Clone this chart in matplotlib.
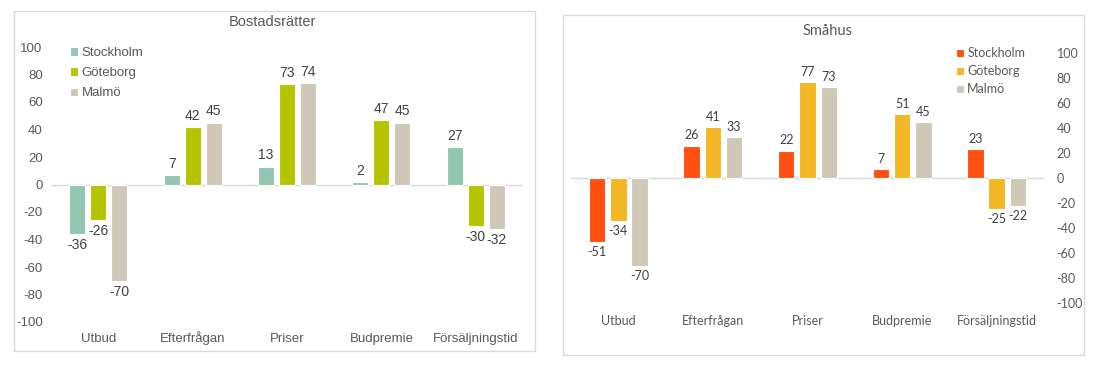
import numpy as np
import matplotlib.pyplot as plt
from matplotlib.patches import Rectangle

plt.rcParams['axes.unicode_minus'] = False

categories = ['Utbud', 'Efterfrågan', 'Priser', 'Budpremie', 'Försäljningstid']
cities = ['Stockholm', 'Göteborg', 'Malmö']

br_stockholm = [-36, 7, 13, 2, 27]
br_goteborg = [-26, 42, 73, 47, -30]
br_malmo = [-70, 45, 74, 45, -32]

sh_stockholm = [-51, 26, 22, 7, 23]
sh_goteborg = [-34, 41, 77, 51, -25]
sh_malmo = [-70, 33, 73, 45, -22]

yticks = [-100, -80, -60, -40, -20, 0, 20, 40, 60, 80, 100]

left_colors = ['#93C6B1', '#B5C400', '#D0C8B6']
right_colors = ['#FF4F12', '#F4B827', '#D0C8B6']

W, H = 1105, 368
fig = plt.figure(figsize=(W / 100, H / 100), dpi=100)


def px_axes(x0, y0, x1, y1):
    # pixel box (top-left origin) -> figure axes
    return fig.add_axes([x0 / W, 1 - y1 / H, (x1 - x0) / W, (y1 - y0) / H])


def frame(x0, y0, x1, y1):
    fig.patches.append(Rectangle((x0 / W, 1 - y1 / H), (x1 - x0) / W, (y1 - y0) / H,
                                 transform=fig.transFigure, fill=False,
                                 edgecolor='#D9D9D9', linewidth=1.0))


def draw_panel(ax, series, colors, font, fs, lab_fs, step, width):
    x = np.arange(len(categories))
    for i, (vals, col, name) in enumerate(zip(series, colors, cities)):
        b = ax.bar(x + (i - 1) * step, vals, width, color=col, edgecolor='white',
                   linewidth=0.8, label=name, zorder=3)
        for rect, v in zip(b, vals):
            cx = rect.get_x() + rect.get_width() / 2
            if v >= 0:
                ax.annotate(str(v), (cx, v), xytext=(0, 3), textcoords='offset points',
                            ha='center', va='bottom', fontsize=lab_fs, color='#404040',
                            family=font)
            else:
                ax.annotate(str(v), (cx, v), xytext=(0, -3), textcoords='offset points',
                            ha='center', va='top', fontsize=lab_fs, color='#404040',
                            family=font)
    ax.axhline(0, color='#D9D9D9', linewidth=1.0, zorder=2)
    ax.set_xlim(-0.5, len(categories) - 0.5)
    ax.set_ylim(-100, 100)
    ax.set_yticks(yticks)
    ax.set_xticks(x)
    ax.set_xticklabels(categories)
    for s in ax.spines.values():
        s.set_visible(False)
    ax.tick_params(length=0, labelsize=fs, labelcolor='#595959')
    for t in ax.get_xticklabels() + ax.get_yticklabels():
        t.set_family(font)
    for t in ax.get_xticklabels():
        t.set_verticalalignment('baseline')


# Bostadsrätter
frame(14, 11, 535, 351)
ax1 = px_axes(51, 47, 523, 322)
draw_panel(ax1, [br_stockholm, br_goteborg, br_malmo], left_colors,
           'Liberation Sans', 9.5, 10, 0.222, 0.17)
ax1.tick_params(axis='y', pad=6)
ax1.tick_params(axis='x', pad=14.5)
fig.text(272 / W, 1 - 22 / H, 'Bostadsrätter', ha='center', va='center',
         fontsize=10.5, color='#595959', family='Liberation Sans')
leg1 = ax1.legend(loc='upper left', bbox_to_anchor=(70 / W, 1 - 47 / H),
                  bbox_transform=fig.transFigure, frameon=False,
                  prop={'family': 'Liberation Sans', 'size': 9.5},
                  handlelength=0.6, handleheight=0.6, handletextpad=0.3,
                  labelspacing=0.62, borderpad=0, borderaxespad=0)
for t in leg1.get_texts():
    t.set_color('#595959')

# Småhus
frame(563, 15, 1084, 355)
ax2 = px_axes(571, 53, 1044, 303)
draw_panel(ax2, [sh_stockholm, sh_goteborg, sh_malmo], right_colors,
           'Lato', 9, 9, 0.225, 0.175)
ax2.yaxis.tick_right()
ax2.tick_params(axis='y', pad=9, length=0)
ax2.tick_params(axis='x', pad=16)
for t in ax2.get_yticklabels():
    t.set_family('Lato')
fig.text(828 / W, 1 - 31 / H, 'Småhus', ha='center', va='center',
         fontsize=10.5, color='#595959', family='Lato')
leg2 = ax2.legend(loc='upper left', bbox_to_anchor=(956 / W, 1 - 47 / H),
                  bbox_transform=fig.transFigure, frameon=False,
                  prop={'family': 'Lato', 'size': 9},
                  handlelength=0.6, handleheight=0.6, handletextpad=0.3,
                  labelspacing=0.48, borderpad=0, borderaxespad=0)
for t in leg2.get_texts():
    t.set_color('#595959')

fig.savefig('out.png', dpi=100)
